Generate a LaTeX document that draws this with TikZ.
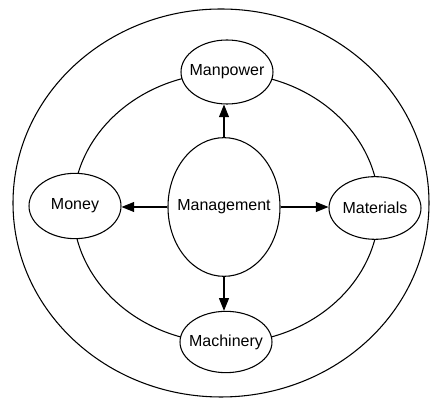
\documentclass[tikz,border=0pt]{standalone}
\usepackage{fontspec}
\setmainfont{Liberation Sans}
\usetikzlibrary{shapes.geometric,arrows.meta}
% label set in a zero-width box so the ellipse keeps its given size
\newcommand{\lbl}[1]{\makebox[0pt]{#1}}
\tikzset{
  ring/.style={draw, line width=0.8pt},
  resource/.style={ellipse, draw, line width=0.8pt, fill=white, inner sep=0pt,
    minimum width=69pt, minimum height=48pt, font=\fontsize{12}{14}\selectfont},
  core/.style={ellipse, draw, line width=0.8pt, fill=white, inner sep=0pt,
    minimum width=84pt, minimum height=104pt, font=\fontsize{12}{14}\selectfont},
  flow/.style={draw, line width=0.8pt, -{Triangle[length=9.5pt,width=7.5pt]}}
}
\begin{document}
\begin{tikzpicture}[x=0.75pt, y=-0.75pt]
  \useasboundingbox (0,0) rectangle (430,398);
  % outer boundary and the ring linking the four resources
  \draw[ring] (221,203) ellipse [x radius=208, y radius=194];
  \draw[ring] (226,208) ellipse [x radius=153, y radius=135];
  % resources around the ring
  \node[resource] (manpower)  at (227,72)  {\lbl{Manpower}};
  \node[resource, minimum height=49pt] (money)     at (75,206)  {\lbl{Money}};
  \node[resource, minimum height=47pt] (materials) at (375,208) {\lbl{Materials}};
  \node[resource, minimum height=46pt] (machinery) at (226,342) {\lbl{Machinery}};
  % central node
  \node[core] (mgmt) at (224,207) {\lbl{Management}};
  % arrows from management to each resource
  \draw[flow] (mgmt.north) -- (mgmt.north |- manpower.south);
  \draw[flow] (mgmt.south) -- (mgmt.south |- machinery.north);
  \draw[flow] (mgmt.west)  -- (money.east |- mgmt.west);
  \draw[flow] (mgmt.east)  -- (materials.west |- mgmt.east);
\end{tikzpicture}
\end{document}
